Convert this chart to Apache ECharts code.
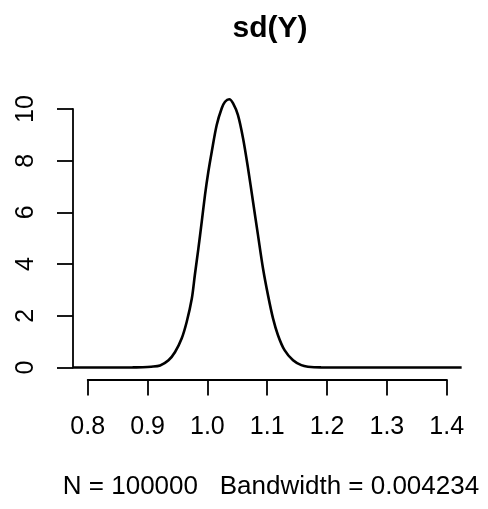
<!DOCTYPE html>
<html>
<head>
<meta charset="utf-8">
<script src="https://cdn.jsdelivr.net/npm/echarts@6/dist/echarts.min.js"></script>
<style>
  html, body { margin: 0; padding: 0; background: #fff; }
  #chart { width: 488px; height: 509px; }
</style>
</head>
<body>
<div id="chart"></div>
<script>
// Kernel density estimate of sd(Y)
const densityX = [0.7754, 0.85, 0.875, 0.892, 0.906, 0.921, 0.935, 0.946, 0.957, 0.9655, 0.974,
  0.979, 0.985, 0.9906, 0.996, 1.0016, 1.0073, 1.0156, 1.024, 1.0295, 1.0365,
  1.043, 1.051, 1.0596, 1.068, 1.0763, 1.0846, 1.093, 1.1013, 1.1097, 1.118,
  1.129, 1.1432, 1.157, 1.168, 1.19, 1.25, 1.425];
const densityY = [0, 0.0, 0.003, 0.01, 0.03, 0.08, 0.28, 0.60, 1.12, 1.77, 2.67,
  3.57, 4.61, 5.64, 6.67, 7.57, 8.35, 9.38, 10.03, 10.28, 10.38,
  10.22, 9.77, 8.87, 7.70, 6.41, 5.12, 3.83, 2.80, 1.90, 1.25,
  0.67, 0.28, 0.09, 0.03, 0.003, 0, 0];
const xTicks = [0.8, 0.9, 1.0, 1.1, 1.2, 1.3, 1.4];
const yTicks = [0, 2, 4, 6, 8, 10];
const titleText = 'sd(Y)';
const subText = 'N = 100000   Bandwidth = 0.004234';

const FONT = '"Liberation Sans", Arial, Helvetica, sans-serif';
const PX_PER_UNIT = 598.3;          // horizontal scale shared by both grids
const xLeftMin = 0.7754, xRightMax = 1.45;

const chart = echarts.init(document.getElementById('chart'), null, { renderer: 'canvas' });

const lineStyle = { color: '#000', width: 1.8 };
const axisTick = { show: true, length: 16, inside: false, lineStyle: lineStyle };

chart.setOption({
  backgroundColor: '#fff',
  animation: false,
  title: [
    {
      text: titleText, left: 265, top: 9, textAlign: 'center',
      textStyle: { fontFamily: FONT, fontSize: 30, fontWeight: 'bold', color: '#000' }
    },
    {
      text: subText, left: 266, top: 469, textAlign: 'center',
      textStyle: { fontFamily: FONT, fontSize: 26, fontWeight: 'normal', color: '#000' }
    }
  ],
  grid: [
    // plotting region carrying the curve and the y axis
    { left: 73, top: 109, width: (xRightMax - xLeftMin) * PX_PER_UNIT, height: 258.5, containLabel: false },
    // region spanning only the labelled x range, for the x axis
    { left: 73 + (xTicks[0] - xLeftMin) * PX_PER_UNIT, top: 109,
      width: (xTicks[xTicks.length - 1] - xTicks[0]) * PX_PER_UNIT, height: 258.5, containLabel: false }
  ],
  xAxis: [
    { gridIndex: 0, type: 'value', min: xLeftMin, max: xRightMax, show: false },
    {
      gridIndex: 1, type: 'value', position: 'bottom', offset: 12,
      min: xTicks[0], max: xTicks[xTicks.length - 1], interval: 0.1,
      axisLine: { show: true, onZero: false, lineStyle: lineStyle },
      axisTick: axisTick, splitLine: { show: false },
      axisLabel: {
        margin: 35, color: '#000', fontFamily: FONT, fontSize: 25,
        formatter: v => v.toFixed(1)
      }
    }
  ],
  yAxis: [
    {
      gridIndex: 0, type: 'value', min: yTicks[0], max: yTicks[yTicks.length - 1], interval: 2,
      axisLine: { show: true, onZero: false, lineStyle: lineStyle },
      axisTick: axisTick, splitLine: { show: false },
      axisLabel: {
        rotate: 90, margin: 34, color: '#000', fontFamily: FONT, fontSize: 25,
        formatter: v => String(v)
      }
    },
    { gridIndex: 1, type: 'value', min: 0, max: 10, show: false }
  ],
  series: [
    {
      type: 'line',
      xAxisIndex: 0, yAxisIndex: 0,
      data: densityX.map((x, i) => [x, densityY[i]]),
      smooth: 0.3,
      clip: false,
      showSymbol: false,
      lineStyle: { color: '#000', width: 2.6 }
    }
  ]
});
</script>
</body>
</html>
